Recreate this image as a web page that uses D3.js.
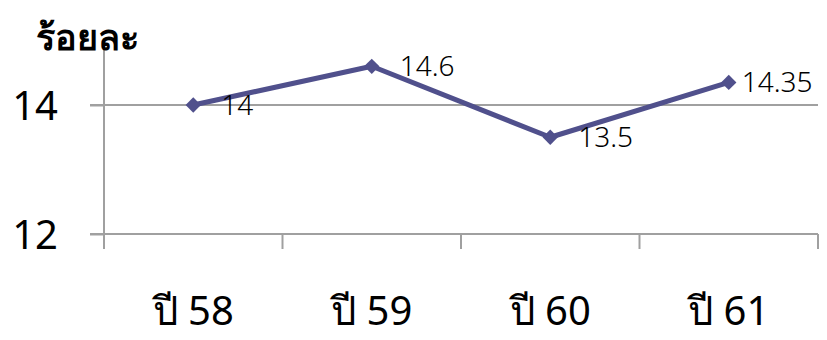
<!DOCTYPE html>
<html>
<head>
<meta charset="utf-8">
<script src="https://cdn.jsdelivr.net/npm/d3@7"></script>
<style>
  html, body { margin: 0; padding: 0; background: #fff; }
  svg { display: block; }
  text { font-family: "Noto Sans", "Open Sans", sans-serif; fill: #000; }
</style>
</head>
<body>
<svg id="chart" width="827" height="340"></svg>
<script>
// Yearly percentages
const years = ["ปี 58", "ปี 59", "ปี 60", "ปี 61"];
const values = [14, 14.6, 13.5, 14.35];
const valueLabels = ["14", "14.6", "13.5", "14.35"];
const yTicks = [12, 14];
const yTitle = "ร้อยละ";

const svg = d3.select("#chart");
const lineColor = "#50508c";
const gridColor = "#a0a0a0";

const plotLeft = 104, plotRight = 818, plotTop = 48, plotBottom = 234;

const x = d3.scaleBand().domain(years).range([plotLeft, plotRight]).padding(0);
const y = d3.scaleLinear().domain([12, 14]).range([plotBottom, 105]);

// horizontal gridline at 14
svg.append("g")
  .selectAll("line")
  .data(yTicks.filter(t => t !== 12))
  .join("line")
  .attr("x1", plotLeft - 14).attr("x2", plotRight)
  .attr("y1", d => y(d)).attr("y2", d => y(d))
  .attr("stroke", gridColor).attr("stroke-width", 2);

// y axis (line + left ticks + labels)
const yAxis = d3.axisLeft(y).tickValues(yTicks).tickSize(14).tickPadding(32).tickFormat(d3.format("d"));
const gy = svg.append("g").attr("transform", `translate(${plotLeft},0)`).call(yAxis);
gy.select(".domain").remove();
gy.selectAll(".tick line").attr("stroke", gridColor).attr("stroke-width", 2);
gy.selectAll(".tick text").style("font-size", "40px").attr("fill", "#000").attr("dy", "0.35em");
svg.append("line")
  .attr("x1", plotLeft).attr("x2", plotLeft)
  .attr("y1", plotTop).attr("y2", plotBottom + 15)
  .attr("stroke", gridColor).attr("stroke-width", 2);

// x axis baseline with category boundary ticks
svg.append("line")
  .attr("x1", plotLeft - 14).attr("x2", plotRight)
  .attr("y1", plotBottom).attr("y2", plotBottom)
  .attr("stroke", gridColor).attr("stroke-width", 2);
const bounds = years.map(d => x(d)).concat([x(years[years.length - 1]) + x.bandwidth()]);
svg.append("g")
  .selectAll("line")
  .data(bounds.slice(1))
  .join("line")
  .attr("x1", d => d).attr("x2", d => d)
  .attr("y1", plotBottom).attr("y2", plotBottom + 15)
  .attr("stroke", gridColor).attr("stroke-width", 2);

// category labels
svg.append("g")
  .selectAll("text")
  .data(years)
  .join("text")
  .attr("x", d => x(d) + x.bandwidth() / 2)
  .attr("y", 325)
  .attr("text-anchor", "middle")
  .style("font-size", "40px")
  .text(d => d);

// axis title
svg.append("text")
  .attr("x", 36).attr("y", 50)
  .style("font-size", "36px").style("font-weight", "bold")
  .text(yTitle);

// series line
const cx = i => x(years[i]) + x.bandwidth() / 2;
const line = d3.line().x((d, i) => cx(i)).y(d => y(d));
svg.append("path")
  .datum(values)
  .attr("d", line)
  .attr("fill", "none")
  .attr("stroke", lineColor)
  .attr("stroke-width", 5)
  .attr("stroke-linejoin", "round");

// diamond markers
svg.append("g")
  .selectAll("path")
  .data(values)
  .join("path")
  .attr("d", d3.symbol(d3.symbolDiamond2, 150))
  .attr("transform", (d, i) => `translate(${cx(i)},${y(d)})`)
  .attr("fill", lineColor);

// value labels
const labelDx = [28, 28, 28, 13];
svg.append("g")
  .selectAll("text")
  .data(values)
  .join("text")
  .attr("x", (d, i) => cx(i) + labelDx[i])
  .attr("y", d => y(d))
  .attr("dy", "0.35em")
  .style("font-size", "28px")
  .style("font-weight", "300")
  .text((d, i) => valueLabels[i]);
</script>
</body>
</html>
